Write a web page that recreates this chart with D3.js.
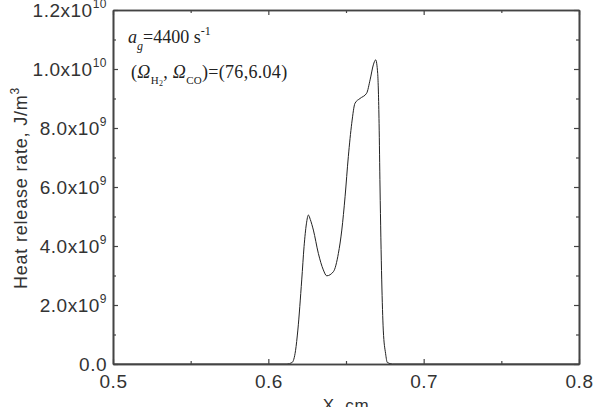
<!DOCTYPE html>
<html>
<head>
<meta charset="utf-8">
<script src="https://cdn.jsdelivr.net/npm/d3@7"></script>
<style>
body { margin:0; background:#fff; }
.tick text { font-family: "Liberation Sans", Arial, sans-serif; fill:#333; letter-spacing:0.5px; }
.label { font-family: "Liberation Sans", Arial, sans-serif; fill:#333; }
.note { font-family: "Liberation Serif", "Times New Roman", serif; fill:#222; }
</style>
</head>
<body>
<svg id="graph"></svg>
<script>
// position along the flame, cm
var xPos = [0.500, 0.600, 0.612, 0.6153, 0.6175, 0.619, 0.6215, 0.623, 0.6245, 0.6258,
            0.627, 0.629, 0.6322, 0.6354, 0.6376, 0.6419, 0.6451, 0.6473, 0.6494, 0.6515,
            0.6537, 0.6558, 0.659, 0.6633, 0.6655, 0.6676, 0.6691, 0.6704, 0.6713, 0.6719,
            0.673, 0.674, 0.6755, 0.6766, 0.680, 0.800]
// heat release rate, 1e9 J/m^3
var heat = [0, 0, 0, 0.05, 0.45, 1.15, 2.85, 3.98, 4.75, 5.05,
            4.9, 4.54, 3.75, 3.19, 2.99, 3.13, 3.75, 4.54, 5.67, 7.03,
            8.16, 8.84, 9.0, 9.18, 9.63, 10.14, 10.31, 9.85, 8.16, 6.0,
            2.85, 1.15, 0.35, 0.05, 0, 0]

var xTicks = [0.5, 0.6, 0.7, 0.8]
var xMinor = [0.55, 0.65, 0.75]
var yTicks = [0, 2, 4, 6, 8, 10, 12]
var yMinor = [1, 3, 5, 7, 9, 11]
var yMantissa = ["0.0", "2.0x10", "4.0x10", "6.0x10", "8.0x10", "1.0x10", "1.2x10"]
var yExponent = ["", "9", "9", "9", "9", "10", "10"]

var screen = {width:595, height:407}
var margins = {left:113, right:16, top:10, bottom:43}
var graph = {
    width: screen.width - margins.left - margins.right,
    height: screen.height - margins.top - margins.bottom
}

var svg = d3.select("#graph")
    .attr("width", screen.width)
    .attr("height", screen.height)

var xScale = d3.scaleLinear().domain([0.5, 0.8]).range([0, graph.width])
var yScale = d3.scaleLinear().domain([0, 12]).range([graph.height, 0])

var target = svg.append("g")
    .attr("transform", "translate(" + margins.left + "," + margins.top + ")")

// the curve
var line = d3.line()
    .x(function(d, i) { return xScale(xPos[i]) })
    .y(function(d) { return yScale(d) })
    .curve(d3.curveMonotoneX)

target.append("path")
    .datum(heat)
    .attr("d", line)
    .attr("fill", "none")
    .attr("stroke", "#222")
    .attr("stroke-width", 1)

// axes, ticks pointing inwards
var styleAxis = function(g) {
    g.select(".domain").attr("stroke", "#444").attr("stroke-width", 1.6)
    g.selectAll(".tick line").attr("stroke", "#444").attr("stroke-width", 1.2)
}

var bottom = target.append("g")
    .attr("transform", "translate(0," + graph.height + ")")
    .call(d3.axisBottom(xScale).tickValues(xTicks).tickSizeInner(-5).tickSizeOuter(0)
          .tickPadding(11).tickFormat(d3.format(".1f")))
bottom.selectAll(".tick text").attr("font-size", 19)
styleAxis(bottom)

target.append("g")
    .attr("transform", "translate(0," + graph.height + ")")
    .call(d3.axisBottom(xScale).tickValues(xMinor).tickSizeInner(-3).tickSizeOuter(0).tickFormat(""))
    .call(styleAxis)

target.append("g")
    .call(d3.axisTop(xScale).tickValues(xTicks).tickSizeInner(-5).tickSizeOuter(0).tickFormat(""))
    .call(styleAxis)
target.append("g")
    .call(d3.axisTop(xScale).tickValues(xMinor).tickSizeInner(-3).tickSizeOuter(0).tickFormat(""))
    .call(styleAxis)

var left = target.append("g")
    .call(d3.axisLeft(yScale).tickValues(yTicks).tickSizeInner(-5).tickSizeOuter(0).tickPadding(6)
          .tickFormat(""))
styleAxis(left)
left.selectAll(".tick text").each(function(d, i) {
    var t = d3.select(this).attr("font-size", 19)
    t.append("tspan").text(yMantissa[i])
    if (yExponent[i] != "") {
        t.append("tspan").text(yExponent[i])
         .attr("font-size", 12)
         .attr("dy", "-0.75em")
    }
})

target.append("g")
    .call(d3.axisLeft(yScale).tickValues(yMinor).tickSizeInner(-3).tickSizeOuter(0).tickFormat(""))
    .call(styleAxis)

target.append("g")
    .attr("transform", "translate(" + graph.width + ",0)")
    .call(d3.axisRight(yScale).tickValues(yTicks).tickSizeInner(-5).tickSizeOuter(0).tickFormat(""))
    .call(styleAxis)
target.append("g")
    .attr("transform", "translate(" + graph.width + ",0)")
    .call(d3.axisRight(yScale).tickValues(yMinor).tickSizeInner(-3).tickSizeOuter(0).tickFormat(""))
    .call(styleAxis)

// axis titles
svg.append("text")
    .classed("label", true)
    .attr("text-anchor", "middle")
    .attr("font-size", 17)
    .attr("letter-spacing", 0.6)
    .attr("x", margins.left + graph.width / 2)
    .attr("y", 411)
    .text("X, cm")

var ylab = svg.append("g")
    .attr("transform", "translate(27," + 188 + ")")
    .append("text")
    .classed("label", true)
    .attr("text-anchor", "middle")
    .attr("font-size", 18)
    .attr("letter-spacing", 0.8)
    .attr("transform", "rotate(-90)")
ylab.append("tspan").text("Heat release rate, J/m")
ylab.append("tspan").text("3").attr("font-size", 12).attr("dy", "-0.7em")

// annotation
var note1 = svg.append("text")
    .classed("note", true)
    .attr("font-size", 18)
    .attr("x", 128)
    .attr("y", 43)
note1.append("tspan").text("a").attr("font-style", "italic")
note1.append("tspan").text("g").attr("font-style", "italic").attr("font-size", 12).attr("dy", 7)
note1.append("tspan").text("=4400 s").attr("dy", -7)
note1.append("tspan").text("-1").attr("font-size", 12).attr("dy", -8)

var note2 = svg.append("text")
    .classed("note", true)
    .attr("font-size", 18)
    .attr("letter-spacing", 0.3)
    .attr("x", 131)
    .attr("y", 78)
note2.append("tspan").text("(")
note2.append("tspan").text("Ω").attr("font-style", "italic")
note2.append("tspan").text("H").attr("font-size", 11).attr("dy", 6)
note2.append("tspan").text("2").attr("font-size", 8).attr("dy", 2)
note2.append("tspan").text(", ").attr("dy", -8)
note2.append("tspan").text("Ω").attr("font-style", "italic")
note2.append("tspan").text("CO").attr("font-size", 11).attr("dy", 6)
note2.append("tspan").text(")=(76,6.04)").attr("dy", -6)
</script>
</body>
</html>
